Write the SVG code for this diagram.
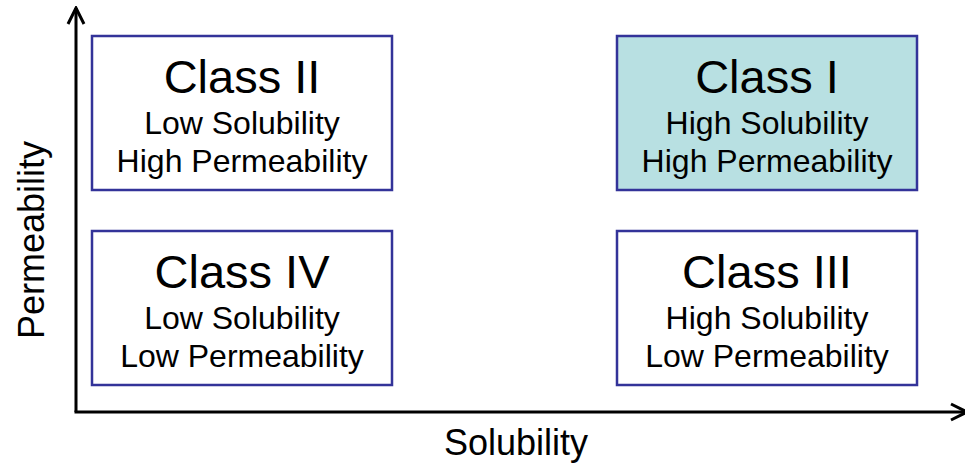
<svg xmlns="http://www.w3.org/2000/svg" width="965" height="465" viewBox="0 0 965 465">
<style>
.box{fill:#ffffff;stroke:#333399;stroke-width:2.5}
.hl{fill:#b8e0e2}
text{font-family:"Liberation Sans",Arial,sans-serif;fill:#000;text-anchor:middle}
.t{font-size:47px}
.s{font-size:32px}
.ax{font-size:36px}
.axis{stroke:#000;stroke-width:3;fill:none}
</style>
<defs>
<marker id="arr" viewBox="0 0 20 20" refX="18" refY="10" markerWidth="20" markerHeight="20" markerUnits="userSpaceOnUse" orient="auto">
<path d="M2,2 L18,10 L2,18" fill="none" stroke="#000" stroke-width="3"/>
</marker>
</defs>
<g id="connectors">
<line class="axis" x1="76" y1="412" x2="76" y2="8" marker-end="url(#arr)"/>
<line class="axis" x1="74.5" y1="412" x2="967" y2="412" marker-end="url(#arr)"/>
</g>
<g id="class2">
<rect class="box" x="92" y="36" width="300" height="154"/>
<text class="t" x="242" y="93">Class II</text>
<text class="s" x="242" y="134">Low Solubility</text>
<text class="s" x="242" y="172">High Permeability</text>
</g>
<g id="class1">
<rect class="box hl" x="617" y="36" width="300" height="154"/>
<text class="t" x="767" y="93">Class I</text>
<text class="s" x="767" y="134">High Solubility</text>
<text class="s" x="767" y="172">High Permeability</text>
</g>
<g id="class4">
<rect class="box" x="92" y="231" width="300" height="154"/>
<text class="t" x="242" y="288">Class IV</text>
<text class="s" x="242" y="329">Low Solubility</text>
<text class="s" x="242" y="367">Low Permeability</text>
</g>
<g id="class3">
<rect class="box" x="617" y="231" width="300" height="154"/>
<text class="t" x="767" y="288">Class III</text>
<text class="s" x="767" y="329">High Solubility</text>
<text class="s" x="767" y="367">Low Permeability</text>
</g>
<g id="axis-labels">
<text class="ax" x="516" y="455">Solubility</text>
<text class="ax" transform="translate(44,240) rotate(-90)">Permeability</text>
</g>
</svg>
